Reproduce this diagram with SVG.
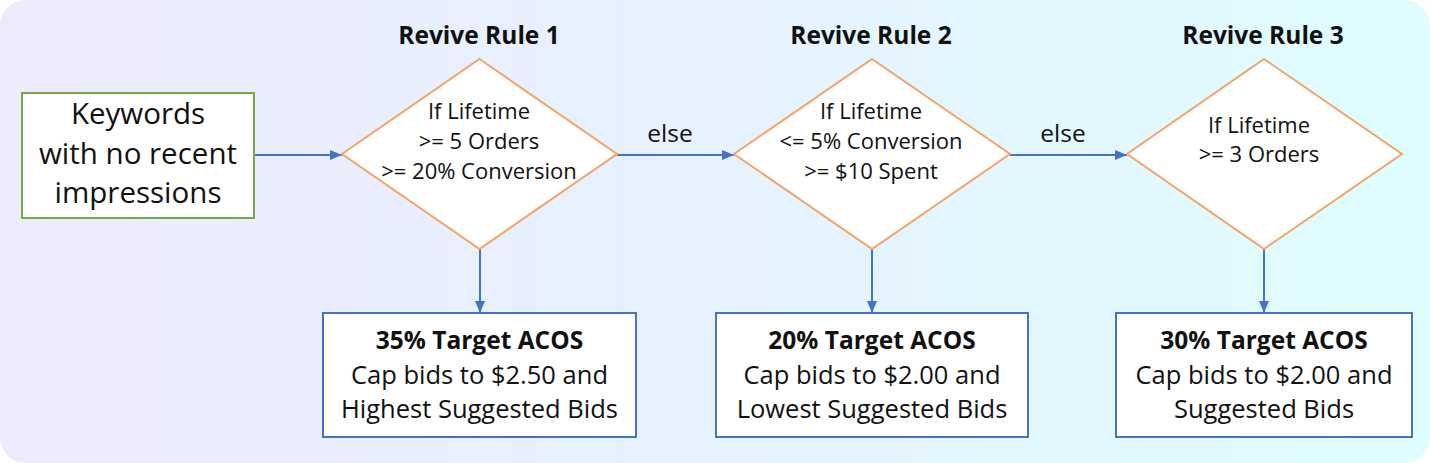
<svg xmlns="http://www.w3.org/2000/svg" width="1430" height="463" viewBox="0 0 1430 463">
<defs>
<linearGradient id="bg" x1="0" y1="0" x2="1" y2="0">
<stop offset="0" stop-color="#EDEAFC"/>
<stop offset="0.5" stop-color="#E6F2FE"/>
<stop offset="1" stop-color="#DFFDFF"/>
</linearGradient>
<marker id="arr" viewBox="0 0 12 10" refX="12" refY="5" markerWidth="12" markerHeight="10" markerUnits="userSpaceOnUse" orient="auto">
<path d="M0,0 L12,5 L0,10 z" fill="#4472C4"/>
</marker>
<style>
text{font-family:"Open Sans","Noto Sans","Liberation Sans",sans-serif;fill:#111;text-anchor:middle}
.start{fill:#fff;stroke:#70AD47;stroke-width:2}
.dia{fill:#fff;stroke:#F4A366;stroke-width:2}
.box{fill:#fff;stroke:#4472C4;stroke-width:2}
.conn{stroke:#4472C4;stroke-width:2;fill:none;marker-end:url(#arr)}
.big{font-size:29.5px}
.dt{font-size:22px}
.bt{font-size:25.5px}
.bh{font-size:24.5px;font-weight:bold}
.hd{font-size:24.5px;font-weight:bold}
.lbl{font-size:24.5px}
</style>
</defs>
<rect x="0" y="0" width="1430" height="463" rx="26" ry="26" fill="url(#bg)"/>
<g id="connectors">
<line class="conn" x1="254" y1="155" x2="342" y2="155"/>
<line class="conn" x1="617" y1="155" x2="734" y2="155"/>
<line class="conn" x1="1010" y1="155" x2="1127" y2="155"/>
<line class="conn" x1="480" y1="249" x2="480" y2="313"/>
<line class="conn" x1="872" y1="249" x2="872" y2="313"/>
<line class="conn" x1="1264" y1="249" x2="1264" y2="313"/>
<text class="lbl" x="670" y="142">else</text>
<text class="lbl" x="1063" y="142">else</text>
</g>
<g id="start">
<rect class="start" x="22" y="93" width="232" height="125"/>
<text class="big" x="138" y="124">Keywords</text>
<text class="big" x="138" y="164">with no recent</text>
<text class="big" x="138" y="203">impressions</text>
</g>
<g id="rule1">
<text class="hd" x="479" y="44">Revive Rule 1</text>
<polygon class="dia" points="479.5,59 617,154 479.5,249 342,154"/>
<text class="dt" x="479" y="118.5">If Lifetime</text>
<text class="dt" x="479" y="148.5">&gt;= 5 Orders</text>
<text class="dt" x="479" y="178.5">&gt;= 20% Conversion</text>
</g>
<g id="rule2">
<text class="hd" x="871" y="44">Revive Rule 2</text>
<polygon class="dia" points="872,59 1010,154 872,249 734,154"/>
<text class="dt" x="871" y="118.5">If Lifetime</text>
<text class="dt" x="871" y="148.5">&lt;= 5% Conversion</text>
<text class="dt" x="871" y="178.5">&gt;= $10 Spent</text>
</g>
<g id="rule3">
<text class="hd" x="1263" y="44">Revive Rule 3</text>
<polygon class="dia" points="1264,59 1402,154 1264,249 1127,154"/>
<text class="dt" x="1259" y="132.5">If Lifetime</text>
<text class="dt" x="1259" y="162">&gt;= 3 Orders</text>
</g>
<g id="action1">
<rect class="box" x="323" y="313" width="313" height="124"/>
<text class="bh" x="479.5" y="349">35% Target ACOS</text>
<text class="bt" x="479.5" y="383.5">Cap bids to $2.50 and</text>
<text class="bt" x="479.5" y="417.5">Highest Suggested Bids</text>
</g>
<g id="action2">
<rect class="box" x="716" y="313" width="312" height="124"/>
<text class="bh" x="872" y="349">20% Target ACOS</text>
<text class="bt" x="872" y="383.5">Cap bids to $2.00 and</text>
<text class="bt" x="872" y="417.5">Lowest Suggested Bids</text>
</g>
<g id="action3">
<rect class="box" x="1116" y="313" width="296" height="124"/>
<text class="bh" x="1264" y="349">30% Target ACOS</text>
<text class="bt" x="1264" y="383.5">Cap bids to $2.00 and</text>
<text class="bt" x="1264" y="417.5">Suggested Bids</text>
</g>
</svg>
